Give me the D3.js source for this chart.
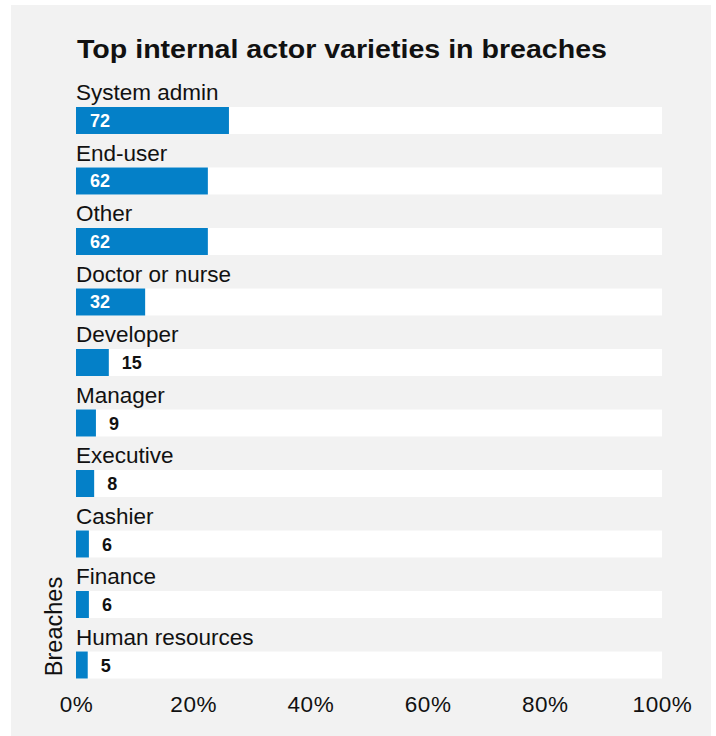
<!DOCTYPE html>
<html>
<head>
<meta charset="utf-8">
<script src="https://cdn.jsdelivr.net/npm/d3@7"></script>
<style>
html,body{margin:0;padding:0;background:#fff;}
svg{display:block;font-family:"Liberation Sans",Arial,Helvetica,sans-serif;}
</style>
</head>
<body>
<svg id="chart" width="716" height="736"></svg>
<script>
const title = "Top internal actor varieties in breaches";
const categories = ["System admin","End-user","Other","Doctor or nurse","Developer","Manager","Executive","Cashier","Finance","Human resources"];
const counts = [72,62,62,32,15,9,8,6,6,5];
const percents = [26.1,22.5,22.5,11.8,5.6,3.4,3.1,2.2,2.2,2.0];
const tickValues = [0,20,40,60,80,100];
const axisTitle = "Breaches";

const data = categories.map((c,i)=>({cat:c,count:counts[i],pct:percents[i]}));

const svg = d3.select("#chart");
const ink = "#111";
const blue = "#0480c8";

svg.append("rect").attr("x",11).attr("y",5).attr("width",700).attr("height",731).attr("fill","#f2f2f2");

svg.append("text").attr("x",77).attr("y",57.5).attr("font-size",25).attr("font-weight","bold")
  .attr("fill",ink).attr("textLength",530).attr("lengthAdjust","spacingAndGlyphs").text(title);

const x = d3.scaleLinear().domain([0,100]).range([76,662]);
const y = d3.scaleBand().domain(categories).range([107,678.5]).paddingInner(0.554).paddingOuter(0).align(0);

const g = svg.append("g");
const row = g.selectAll("g.row").data(data).join("g").attr("class","row");

row.append("text").attr("x",x(0)).attr("y",d=>y(d.cat)-7).attr("font-size",22.5).attr("fill",ink).text(d=>d.cat);
row.append("rect").attr("x",x(0)).attr("y",d=>y(d.cat)).attr("width",x(100)-x(0)).attr("height",y.bandwidth()).attr("fill","#fff");
row.append("rect").attr("x",x(0)).attr("y",d=>y(d.cat)).attr("width",d=>x(d.pct)-x(0)).attr("height",y.bandwidth()).attr("fill",blue);
row.append("text")
  .attr("x",d=> (x(d.pct)-x(0) > 50) ? x(0)+14 : x(d.pct)+13)
  .attr("y",d=>y(d.cat)+y.bandwidth()/2+6.5)
  .attr("font-size",18).attr("font-weight","bold")
  .attr("fill",d=> (x(d.pct)-x(0) > 50) ? "#fff" : ink)
  .text(d=>d.count);

const axis = d3.axisBottom(x).tickValues(tickValues).tickFormat(d=>d+"%").tickSize(0).tickPadding(0);
const ag = svg.append("g").attr("transform","translate(0,696)").call(axis);
ag.select(".domain").remove();
ag.selectAll("text").attr("font-size",22.5).attr("fill",ink).attr("dy","0.71em")
  .attr("font-family","'Liberation Sans',Arial,sans-serif").attr("letter-spacing","0.6");

svg.append("text").attr("transform","translate(61.5,626.5) rotate(-90)").attr("text-anchor","middle")
  .attr("font-size",23.5).attr("fill",ink).text(axisTitle);
</script>
</body>
</html>
